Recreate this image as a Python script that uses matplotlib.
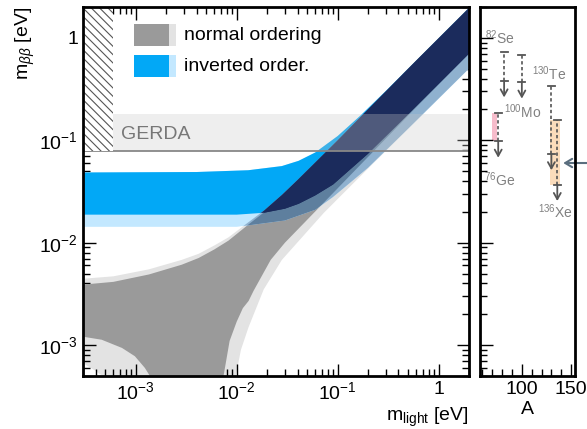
import matplotlib
matplotlib.use("Agg")
import matplotlib.pyplot as plt
from matplotlib.patches import Polygon, Rectangle
from matplotlib.ticker import FixedLocator, MultipleLocator, NullFormatter

plt.rcParams['font.family'] = ['Liberation Sans', 'DejaVu Sans']
plt.rcParams['mathtext.fontset'] = 'custom'
plt.rcParams['mathtext.rm'] = 'Liberation Sans'
plt.rcParams['mathtext.it'] = 'Liberation Sans:italic'
plt.rcParams['mathtext.bf'] = 'Liberation Sans:bold'
plt.rcParams['hatch.linewidth'] = 0.8

# ---- band boundaries (eV) ----
# normal ordering, upper edge (dark / 3 sigma)
no_up_x = [3e-4, 6e-4, 1.35e-3, 2e-3, 2.85e-3, 4.2e-3, 6e-3, 8.3e-3, 1.3e-2, 1.85e-2, 2.8e-2, 4e-2, 0.1, 0.3, 0.6, 2.0]
no_up_y = [3.9e-3, 4.15e-3, 4.9e-3, 5.5e-3, 6.1e-3, 7.1e-3, 8.6e-3, 1.05e-2, 1.5e-2, 1.97e-2, 2.85e-2, 4.0e-2, 0.099, 0.3, 0.6, 1.96]
no_up3_y = [4.45e-3, 4.7e-3, 5.5e-3, 6.15e-3, 6.8e-3, 7.8e-3, 9.4e-3, 1.13e-2, 1.58e-2, 2.05e-2, 2.93e-2, 4.1e-2, 0.1, 0.3, 0.6, 1.96]
# normal ordering, lower edge, large-mass branch
no_lo_x = [7.4e-3, 8.5e-3, 1.0e-2, 1.15e-2, 1.31e-2, 1.47e-2, 2.17e-2, 3.0e-2, 5.5e-2, 0.1, 0.5, 2.0]
no_lo_y = [5e-4, 1.1e-3, 1.7e-3, 2.3e-3, 2.7e-3, 3.4e-3, 6.8e-3, 1.0e-2, 1.85e-2, 3.4e-2, 0.175, 0.70]
no_lo3_x = [9.8e-3, 1.1e-2, 1.31e-2, 1.85e-2, 2.8e-2, 7.3e-2, 0.2, 2.0]
no_lo3_y = [5e-4, 9e-4, 1.5e-3, 3.5e-3, 6.8e-3, 1.96e-2, 5.3e-2, 0.5]
# normal ordering, lower edge, small-mass branch
no_ll_x = [3e-4, 4.6e-4, 7.3e-4, 9.8e-4, 1.23e-3, 1.38e-3]
no_ll_y = [1.21e-3, 1.13e-3, 9.4e-4, 7.8e-4, 6.0e-4, 5e-4]
no_ll3_x = [3e-4, 4e-4, 4.7e-4]
no_ll3_y = [6.7e-4, 5.6e-4, 5e-4]

# inverted ordering
io_up_x = [3e-4, 4e-3, 1.3e-2, 2.8e-2, 4.1e-2, 6e-2, 7e-2, 0.1, 0.17, 0.3, 0.6, 2.0]
io_up_y = [0.0485, 0.049, 0.051, 0.056, 0.063, 0.076, 0.085, 0.11, 0.176, 0.303, 0.6, 1.96]
io_lo_x = [3e-4, 1e-2, 1.85e-2, 3e-2, 4.1e-2, 6e-2, 9e-2, 0.2, 0.5, 2.0]
io_lo_y = [0.0188, 0.0188, 0.0196, 0.0215, 0.024, 0.029, 0.037, 0.074, 0.18, 0.70]
io_lo3_x = [3e-4, 1e-2, 1.31e-2, 3e-2, 6e-2, 9e-2, 0.2, 0.5, 2.0]
io_lo3_y = [0.0143, 0.0143, 0.0148, 0.0165, 0.021, 0.028, 0.054, 0.13, 0.5]

gerda_lo, gerda_hi = 0.079, 0.18
excl_x = [3e-4, 6e-4]

# isotopes (right panel)
iso_A = [76, 82, 100, 130, 136]
iso_up = [0.184, 0.73, 0.68, 0.34, 0.156]
iso_lo = [0.098, 0.38, 0.37, 0.074, 0.037]
iso_lab = [r'$^{76}$Ge', r'$^{82}$Se', r'$^{100}$Mo', r'$^{130}$Te', r'$^{136}$Xe']
iso_lab_xy = [(77, 0.041), (78, 1.0), (101, 0.19), (127.5, 0.445), (134, 0.02)]
ge_band = (69.2, 74.9, 0.099, 0.185)
xe_band = (129, 138.5, 0.037, 0.158)
arrow_y = 0.06

ymin, ymax = 5e-4, 2.0
xmin, xmax = 3e-4, 2.0

c_nol, c_nod = '#e3e3e3', '#9a9a9a'
c_iol, c_iod = '#c3e8ff', '#02a8f6'
c_navy, c_st_d, c_st_l = '#1b2b5c', '#5e7f9e', '#8fb1cf'

fig = plt.figure(figsize=(5.87, 4.29), dpi=100)
ax = fig.add_axes([0.1414, 0.1235, 0.6576, 0.8602])
ax2 = fig.add_axes([0.8177, 0.1235, 0.1619, 0.8602])

ax.set_xscale('log')
ax.set_yscale('log')


def band(up_x, up_y, lo_x, lo_y):
    return list(zip(up_x, up_y)) + list(zip(lo_x, lo_y))[::-1]


no_light = list(zip(no_ll3_x, no_ll3_y))[::-1] + list(zip(no_up_x, no_up3_y)) + list(zip(no_lo3_x, no_lo3_y))[::-1]
no_dark = list(zip(no_ll_x, no_ll_y))[::-1] + list(zip(no_up_x, no_up_y)) + list(zip(no_lo_x, no_lo_y))[::-1]
io_light = band(io_up_x, io_up_y, io_lo3_x, io_lo3_y)
io_dark = band(io_up_x, io_up_y, io_lo_x, io_lo_y)

ax.add_patch(Polygon(no_light, closed=True, fc=c_nol, ec='none', zorder=1))
ax.add_patch(Polygon(no_dark, closed=True, fc=c_nod, ec='none', zorder=2))
ax.add_patch(Polygon(io_light, closed=True, fc=c_iol, ec='none', zorder=3))
ax.add_patch(Polygon(io_dark, closed=True, fc=c_iod, ec='none', zorder=4))

# overlaps of the two orderings
clip_l = Polygon(no_light, closed=True, transform=ax.transData)
clip_d = Polygon(no_dark, closed=True, transform=ax.transData)
for verts, clip, col, z in [(io_light, clip_l, c_st_l, 5), (io_light, clip_d, c_st_d, 6),
                            (io_dark, clip_l, c_navy, 7), (io_dark, clip_d, c_navy, 8)]:
    p = Polygon(verts, closed=True, fc=col, ec='none', zorder=z)
    ax.add_patch(p)
    p.set_clip_path(clip)

# GERDA
ax.fill_between([excl_x[1], xmax], gerda_lo, gerda_hi, color='#c8c8c8', alpha=0.3, lw=0, zorder=9)
ax.axhline(gerda_lo, color='#888888', lw=1.3, zorder=10)
ax.text(7.1e-4, 0.094, 'GERDA', color='#777777', fontsize=14, va='bottom', ha='left', zorder=11)
ax.add_patch(Rectangle((excl_x[0], gerda_lo), excl_x[1] - excl_x[0], ymax - gerda_lo,
                       fc='white', ec='#555555', lw=0, hatch='\\\\\\\\', zorder=10))

# legend
for y0, cd, cl, lab in [(0.894, c_nod, c_nol, 'normal ordering'), (0.810, c_iod, c_iol, 'inverted order.')]:
    ax.add_patch(Rectangle((0.132, y0), 0.0907, 0.06, transform=ax.transAxes, fc=cd, ec='none', zorder=12))
    ax.add_patch(Rectangle((0.2227, y0), 0.018, 0.06, transform=ax.transAxes, fc=cl, ec='none', zorder=12))
    ax.text(0.262, y0 + 0.03, lab, transform=ax.transAxes, fontsize=14, va='center', ha='left', zorder=12)

ax.set_xlim(xmin, xmax)
ax.set_ylim(ymin, ymax)
ax.xaxis.set_major_locator(FixedLocator([1e-3, 1e-2, 1e-1, 1]))
ax.set_xticklabels([r'$10^{-3}$', r'$10^{-2}$', r'$10^{-1}$', '1'])
ax.yaxis.set_major_locator(FixedLocator([1e-3, 1e-2, 1e-1, 1]))
ax.set_yticklabels([r'$10^{-3}$', r'$10^{-2}$', r'$10^{-1}$', '1'])
ax.set_xlabel(r'm$_{\mathregular{light}}$ [eV]', loc='right', fontsize=14, labelpad=2)
ax.set_ylabel(r'm$_{\beta\beta}$ [eV]', loc='top', fontsize=14, labelpad=2)

for a in (ax, ax2):
    for s in a.spines.values():
        s.set_linewidth(2)
        s.set_zorder(20)
    a.tick_params(which='both', direction='in', labelsize=14, width=1)
    a.tick_params(which='major', length=9)
    a.tick_params(which='minor', length=5)
ax.tick_params(which='both', top=True, right=True)

# right panel
ax2.set_yscale('log')
ax2.set_ylim(ymin, ymax)
ax2.set_xlim(57.5, 154)
ax2.yaxis.set_major_locator(FixedLocator([1e-3, 1e-2, 1e-1, 1]))
ax2.yaxis.set_major_formatter(NullFormatter())
ax2.yaxis.set_minor_formatter(NullFormatter())
ax2.xaxis.set_major_locator(FixedLocator([50, 100, 150]))
ax2.xaxis.set_minor_locator(MultipleLocator(10))
ax2.set_xlabel('A', fontsize=14, labelpad=2)

x0, x1, y0, y1 = ge_band
ax2.fill_between([x0, x1], y0, y1, color='#f6bccb', lw=0)
x0, x1, y0, y1 = xe_band
ax2.fill_between([x0, x1], y0, y1, color='#fbdcbb', lw=0)

gc = '#555555'
for A, up, lo in zip(iso_A, iso_up, iso_lo):
    ax2.plot([A, A], [lo, up], color=gc, lw=1.2, ls=(0, (2, 1.5)))
    ax2.plot([A - 3.5, A + 3.5], [up, up], color=gc, lw=1.3)
    ax2.plot([A - 3.5, A + 3.5], [lo, lo], color=gc, lw=1.3)
    ax2.annotate('', xy=(A, lo / 1.45), xytext=(A, lo),
                 arrowprops=dict(arrowstyle='->,head_length=0.45,head_width=0.25', color=gc, lw=1.3,
                                 shrinkA=0, shrinkB=0))
for lab, (A, y) in zip(iso_lab, iso_lab_xy):
    ax2.text(A, y, lab, color='#808080', fontsize=10, ha='center', va='center')

ax2.annotate('', xy=(142, arrow_y), xytext=(167, arrow_y), annotation_clip=False,
             arrowprops=dict(arrowstyle='->,head_length=0.5,head_width=0.3', color='#5a6e7e', lw=1.5,
                             shrinkA=0, shrinkB=0))

fig.savefig('out.png', dpi=100)
